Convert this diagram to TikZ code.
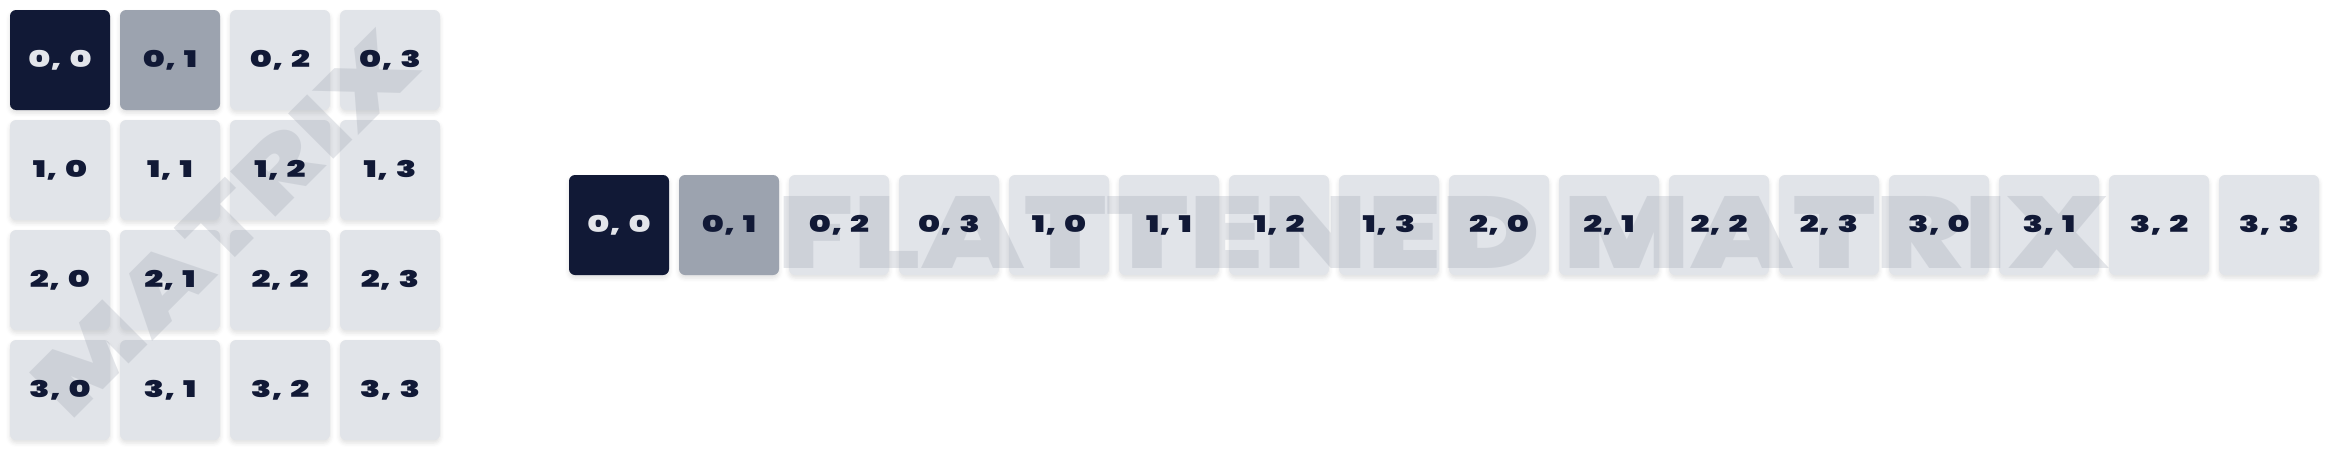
\documentclass[tikz,border=0pt]{standalone}
\usepackage{fontspec}
\usetikzlibrary{shadows.blur}
\newfontfamily\lblfont[FakeStretch=1.45]{Poppins Black}
\newfontfamily\wmfont{Poppins Black}
\definecolor{navy}{HTML}{111936}
\definecolor{midgray}{HTML}{9CA3AF}
\definecolor{light}{HTML}{E1E4E9}
\definecolor{wmgray}{HTML}{9CA3AF}
\definecolor{lbllight}{HTML}{E3E5EA}
\tikzset{
  cellbox/.style={minimum width=100pt, minimum height=100pt, inner sep=0pt, rounded corners=6pt, fill=light,
    blur shadow={shadow xshift=0pt, shadow yshift=-3pt, shadow blur radius=4pt, shadow opacity=12}},
  darkcell/.style={fill=navy},
  midcell/.style={fill=midgray},
  lbl/.style={inner sep=0pt, text=navy, font=\lblfont\fontsize{23}{23}\selectfont},
  wm/.style={inner sep=0pt, text=wmgray, text opacity=0.28}
}
\begin{document}
\begin{tikzpicture}[x=1pt,y=-1pt]
\useasboundingbox (0,0) rectangle (2329,450);
% cells
\foreach \i in {0,...,3}{
  \foreach \j in {0,...,3}{
    \pgfmathtruncatemacro{\k}{4*\i+\j}
    \ifnum\k=0 \def\extra{darkcell}\else\ifnum\k=1 \def\extra{midcell}\else\def\extra{}\fi\fi
    \node[cellbox,\extra] (g-\i-\j) at ({60+110*\j},{60+110*\i}) {};
    \node[cellbox,\extra] (f-\k) at ({619+110*\k},225) {};
  }
}
% watermarks
\node[wm, rotate=45] (wmL) at (224,224) {\resizebox{498pt}{64pt}{\wmfont MATRIX}};
\node[wm] (wmR) at (1443.5,232) {\resizebox{1331pt}{72pt}{\wmfont FLATTENED MATRIX}};
% labels
\foreach \i in {0,...,3}{
  \foreach \j in {0,...,3}{
    \pgfmathtruncatemacro{\k}{4*\i+\j}
    \ifnum\k=0
      \node[lbl, text=lbllight] (gl-\i-\j) at (g-\i-\j) {\i,\hspace{2pt} \j};
      \node[lbl, text=lbllight] (fl-\k) at (f-\k) {\i,\hspace{2pt} \j};
    \else
      \node[lbl] (gl-\i-\j) at (g-\i-\j) {\i,\hspace{2pt} \j};
      \node[lbl] (fl-\k) at (f-\k) {\i,\hspace{2pt} \j};
    \fi
  }
}
\end{tikzpicture}
\end{document}
